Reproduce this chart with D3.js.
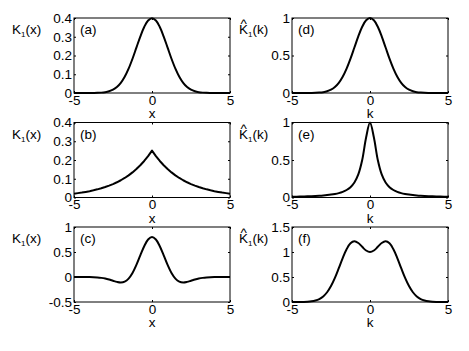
<!DOCTYPE html>
<html>
<head>
<meta charset="utf-8">
<script src="https://cdn.jsdelivr.net/npm/d3@7"></script>
<style>
  body { margin: 0; background: #fff; }
  svg { display: block; font-family: "Liberation Sans", Arial, sans-serif; }
  text { fill: #000; }
</style>
</head>
<body>
<div id="chart"></div>
<script>
var WIDTH = 469;
var HEIGHT = 351;
var PANEL_W = 156;
var PANEL_H = 75;
var COL_X = [74, 292];
var ROW_Y = [18, 122.5, 227];
var FONT_SIZE = 13.5;

// sample positions (x for the left column, k for the right column)
var xValues = [-5, -4.75, -4.5, -4.25, -4, -3.75, -3.5, -3.25, -3, -2.75, -2.5, -2.25,
  -2, -1.75, -1.5, -1.25, -1, -0.75, -0.5, -0.25, 0, 0.25, 0.5, 0.75, 1, 1.25, 1.5,
  1.75, 2, 2.25, 2.5, 2.75, 3, 3.25, 3.5, 3.75, 4, 4.25, 4.5, 4.75, 5];

// (a) K1(x)
var kernelA = [0, 0, 0, 0, 0.0001, 0.0004, 0.0009, 0.0020, 0.0044, 0.0091, 0.0175, 0.0317,
  0.0540, 0.0863, 0.1295, 0.1826, 0.2420, 0.3011, 0.3521, 0.3867, 0.3989, 0.3867, 0.3521,
  0.3011, 0.2420, 0.1826, 0.1295, 0.0863, 0.0540, 0.0317, 0.0175, 0.0091, 0.0044, 0.0020,
  0.0009, 0.0004, 0.0001, 0, 0, 0, 0];
// (b) K1(x)
var kernelB = [0.0205, 0.0233, 0.0263, 0.0299, 0.0338, 0.0383, 0.0435, 0.0492, 0.0558, 0.0632,
  0.0716, 0.0812, 0.0920, 0.1042, 0.1181, 0.1338, 0.1516, 0.1718, 0.1947, 0.2206, 0.25,
  0.2206, 0.1947, 0.1718, 0.1516, 0.1338, 0.1181, 0.1042, 0.0920, 0.0812, 0.0716, 0.0632,
  0.0558, 0.0492, 0.0435, 0.0383, 0.0338, 0.0299, 0.0263, 0.0233, 0.0205];
// (c) K1(x)
var kernelC = [0, -0.0001, -0.0003, -0.0008, -0.0019, -0.0043, -0.0089, -0.0174, -0.0310, -0.0506,
  -0.0744, -0.0971, -0.1080, -0.0917, -0.0324, 0.0799, 0.2420, 0.4328, 0.6162, 0.7492, 0.7979,
  0.7492, 0.6162, 0.4328, 0.2420, 0.0799, -0.0324, -0.0917, -0.1080, -0.0971, -0.0744, -0.0506,
  -0.0310, -0.0174, -0.0089, -0.0043, -0.0019, -0.0008, -0.0003, -0.0001, 0];
// (d) K1 hat(k)
var kernelD = [0, 0, 0, 0.0001, 0.0003, 0.0009, 0.0022, 0.0051, 0.0111, 0.0228, 0.0439, 0.0796,
  0.1353, 0.2163, 0.3247, 0.4578, 0.6065, 0.7548, 0.8825, 0.9692, 1, 0.9692, 0.8825, 0.7548,
  0.6065, 0.4578, 0.3247, 0.2163, 0.1353, 0.0796, 0.0439, 0.0228, 0.0111, 0.0051, 0.0022,
  0.0009, 0.0003, 0.0001, 0, 0, 0];
// (e) K1 hat(k)
var kernelE = [0.0099, 0.011, 0.0122, 0.0137, 0.0154, 0.0175, 0.02, 0.0231, 0.027, 0.032, 0.0385,
  0.0471, 0.0588, 0.0755, 0.1, 0.1379, 0.2, 0.3077, 0.5, 0.8, 1, 0.8, 0.5, 0.3077, 0.2, 0.1379,
  0.1, 0.0755, 0.0588, 0.0471, 0.0385, 0.032, 0.027, 0.0231, 0.02, 0.0175, 0.0154, 0.0137,
  0.0122, 0.011, 0.0099];
// (f) K1 hat(k)
var kernelF = [0.0001, 0.0003, 0.0009, 0.0023, 0.0057, 0.0133, 0.0290, 0.0588, 0.1111, 0.1951,
  0.3186, 0.4823, 0.6767, 0.8786, 1.0551, 1.1732, 1.2131, 1.1794, 1.1031, 1.0298, 1, 1.0298,
  1.1031, 1.1794, 1.2131, 1.1732, 1.0551, 0.8786, 0.6767, 0.4823, 0.3186, 0.1951, 0.1111,
  0.0588, 0.0290, 0.0133, 0.0057, 0.0023, 0.0009, 0.0003, 0.0001];

var xTicks = [-5, 0, 5];
var yTicksSmall = [0, 0.1, 0.2, 0.3, 0.4];
var yTicksUnit = [0, 0.5, 1];
var yTicksSigned = [-0.5, 0, 0.5, 1];
var yTicksWide = [0, 0.5, 1, 1.5];
var panelLabels = ["(a)", "(b)", "(c)", "(d)", "(e)", "(f)"];

var panels = [
  { col: 0, row: 0, values: kernelA, yDomain: [0, 0.4], yTicks: yTicksSmall, hat: false, smooth: true },
  { col: 0, row: 1, values: kernelB, yDomain: [0, 0.4], yTicks: yTicksSmall, hat: false, smooth: false },
  { col: 0, row: 2, values: kernelC, yDomain: [-0.5, 1], yTicks: yTicksSigned, hat: false, smooth: true },
  { col: 1, row: 0, values: kernelD, yDomain: [0, 1], yTicks: yTicksUnit, hat: true, smooth: true },
  { col: 1, row: 1, values: kernelE, yDomain: [0, 1], yTicks: yTicksUnit, hat: true, smooth: true },
  { col: 1, row: 2, values: kernelF, yDomain: [0, 1.5], yTicks: yTicksWide, hat: true, smooth: true }
];

var svg = d3.select("#chart").append("svg")
  .attr("width", WIDTH)
  .attr("height", HEIGHT)
  .style("font-size", FONT_SIZE + "px");

panels.forEach(function(p, i) {
  drawPanel(p, panelLabels[i]);
});

function drawPanel(p, label) {
  var TICK_LEN = 2;
  var left = COL_X[p.col];
  var top = ROW_Y[p.row];
  var varName = p.hat ? "k" : "x";

  var x = d3.scaleLinear().domain([-5, 5]).range([0, PANEL_W]);
  var y = d3.scaleLinear().domain(p.yDomain).range([PANEL_H, 0]);

  var g = svg.append("g")
    .attr("transform", "translate(" + left + "," + top + ")");

  // inward ticks on all four sides, labels only left and bottom
  var bottomAxis = d3.axisBottom(x).tickValues(xTicks).tickSizeInner(-TICK_LEN)
    .tickSizeOuter(0).tickPadding(2).tickFormat(d3.format("d"));
  var topAxis = d3.axisTop(x).tickValues(xTicks).tickSizeInner(-TICK_LEN)
    .tickSizeOuter(0).tickFormat("");
  var leftAxis = d3.axisLeft(y).tickValues(p.yTicks).tickSizeInner(-TICK_LEN)
    .tickSizeOuter(0).tickPadding(2).tickFormat(d3.format("~g"));
  var rightAxis = d3.axisRight(y).tickValues(p.yTicks).tickSizeInner(-TICK_LEN)
    .tickSizeOuter(0).tickFormat("");

  [
    { axis: bottomAxis, t: "translate(0," + PANEL_H + ")" },
    { axis: topAxis, t: "translate(0,0)" },
    { axis: leftAxis, t: "translate(0,0)" },
    { axis: rightAxis, t: "translate(" + PANEL_W + ",0)" }
  ].forEach(function(a) {
    var ag = g.append("g").attr("transform", a.t).call(a.axis);
    ag.select(".domain").remove();
    ag.selectAll("line").attr("stroke", "#000").attr("stroke-width", 1);
    ag.selectAll("text")
      .attr("fill", "#000")
      .style("font-family", "inherit")
      .style("font-size", FONT_SIZE + "px")
      .text(function() {
        return d3.select(this).text().replace("\u2212", "-");
      });
  });

  // the curve
  var line = d3.line()
    .x(function(d, i) { return x(xValues[i]); })
    .y(function(d) { return y(d); })
    .curve(p.smooth ? d3.curveCatmullRom : d3.curveLinear);
  g.append("path")
    .datum(p.values)
    .attr("fill", "none")
    .attr("stroke", "#000")
    .attr("stroke-width", 2)
    .attr("stroke-linejoin", "round")
    .attr("d", line);

  // box
  g.append("rect")
    .attr("width", PANEL_W)
    .attr("height", PANEL_H)
    .attr("fill", "none")
    .attr("stroke", "#000")
    .attr("stroke-width", 1);

  // panel letter
  g.append("text")
    .attr("x", 6)
    .attr("y", 16)
    .text(label);

  // x label
  g.append("text")
    .attr("x", PANEL_W / 2)
    .attr("y", PANEL_H + 25)
    .attr("text-anchor", "middle")
    .text(varName);

  // y label, K with subscript 1 (and a hat over K on the right column)
  var labelX = p.hat ? left - 53 : left - 62;
  var yl = svg.append("text")
    .attr("x", labelX)
    .attr("y", top + 16);
  if (p.hat) {
    yl.append("tspan")
      .attr("x", labelX + 1.5)
      .attr("dy", -6)
      .text("^");
    yl.append("tspan")
      .attr("x", labelX)
      .attr("dy", 6)
      .text("K");
  } else {
    yl.append("tspan").text("K");
  }
  yl.append("tspan").attr("dy", 3).style("font-size", "8px").text("1");
  yl.append("tspan").attr("dy", -3).text("(" + varName + ")");
}
</script>
</body>
</html>
